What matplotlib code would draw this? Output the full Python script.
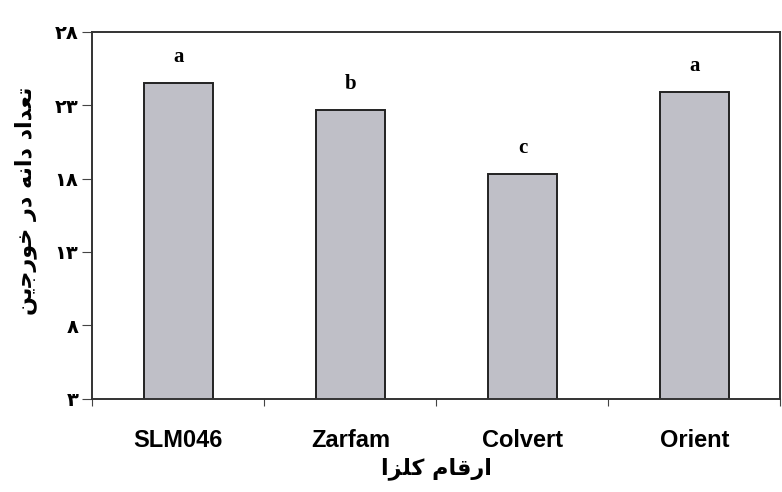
import matplotlib.pyplot as plt

# Persian text is written with presentation forms, in visual (left-to-right) order
def visual(s):
    return s[::-1]

cultivars = ['SLM046', 'Zarfam', 'Colvert', 'Orient']
seeds = [24.5, 22.7, 18.3, 23.9]
groups = ['a', 'b', 'c', 'a']
yticks = [3, 8, 13, 18, 23, 28]
ytick_labels = ['\u06f3', '\u06f8', '\u06f1\u06f3', '\u06f1\u06f8', '\u06f2\u06f3', '\u06f2\u06f8']

# "تعداد دانه در خورجین"
ylab = visual('\ufe97\ufecc\ufeaa\ufe8d\ufea9 \ufea9\ufe8d\ufee7\ufeea \ufea9\ufead '
              '\ufea7\ufeee\ufead\ufe9f\ufbfe\ufee6')
# "ارقام کلزا"
xlab = visual('\ufe8d\ufead\ufed7\ufe8e\ufee1 \ufb90\ufee0\ufeb0\ufe8d')

fig = plt.figure(figsize=(7.82, 4.92), dpi=100)
ax = fig.add_axes([0.118, 0.19, 0.88, 0.745])

x = range(len(cultivars))
ax.bar(x, seeds, width=0.4, bottom=0, color='#bfbfc7', edgecolor='#222222', linewidth=1.4)
for i in x:
    ax.text(i, seeds[i] + 1.1, groups[i], ha='center', va='bottom',
            family='Liberation Serif', fontweight='bold', fontsize=15)

ax.set_ylim(3, 28)
ax.set_xlim(-0.5, 3.5)
ax.set_yticks(yticks)
ax.set_yticklabels(ytick_labels, family='DejaVu Sans', fontweight='bold', fontsize=14)
ax.set_xticks([-0.5, 0.5, 1.5, 2.5, 3.5])
ax.set_xticklabels([])
ax.set_xticks(list(x), minor=True)
ax.set_xticklabels(cultivars, minor=True, family='Liberation Sans', fontweight='bold', fontsize=17)
ax.tick_params(axis='x', which='minor', length=0, pad=22)
ax.tick_params(axis='x', which='major', length=5, direction='out', color='#444444')
ax.tick_params(axis='y', length=7, direction='out', pad=3, color='#444444')

for sp in ax.spines.values():
    sp.set_linewidth(1.4)
    sp.set_color('#333333')

ax.set_ylabel(ylab, family='DejaVu Sans', fontweight='bold', fontsize=16)
ax.yaxis.set_label_coords(-0.08, 0.54)
ax.set_xlabel(xlab, family='DejaVu Sans', fontweight='bold', fontsize=16, labelpad=4)

fig.savefig('out.png', dpi=100)
